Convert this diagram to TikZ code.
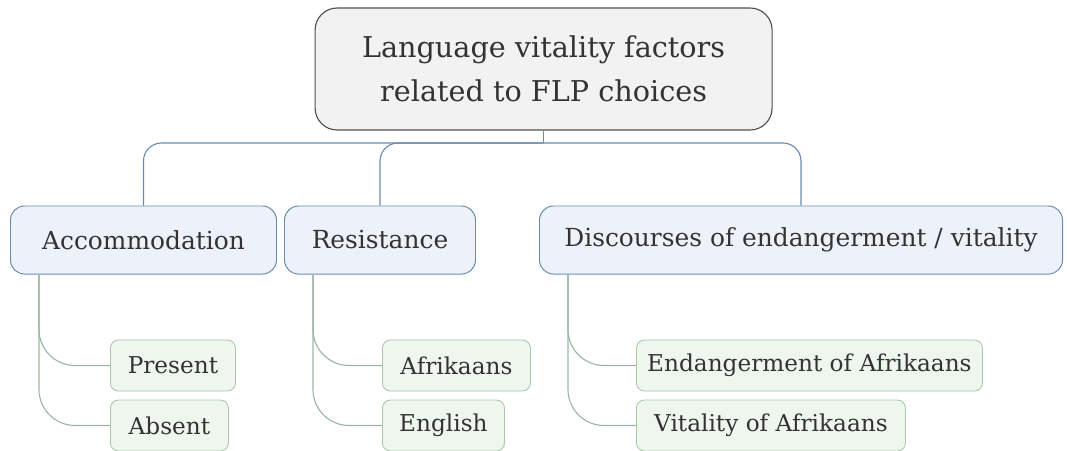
\documentclass[tikz,border=0pt]{standalone}
\usepackage{fontspec}
\setmainfont{DejaVu Serif}
\usetikzlibrary{positioning}

\definecolor{raizfill}{HTML}{F2F2F2}
\definecolor{raizborda}{HTML}{505050}
\definecolor{ramofill}{HTML}{EDF2FA}
\definecolor{ramoborda}{HTML}{6A8BB0}
\definecolor{folhafill}{HTML}{EEF6EE}
\definecolor{folhaborda}{HTML}{A8C7A8}
\definecolor{linhafolha}{HTML}{9CB5A5}

\begin{document}
\begin{tikzpicture}[
        raiz/.style={draw=raizborda, fill=raizfill, line width=0.8pt, rounded corners=0.55cm,
            align=center, minimum width=11.425cm, minimum height=3.05cm,
            font=\fontsize{20.4}{31}\selectfont, text=black!80},
        ramo/.style={draw=ramoborda, fill=ramofill, line width=0.7pt, rounded corners=0.35cm,
            anchor=west, minimum height=1.7cm, inner xsep=0.3cm,
            font=\fontsize{17.7}{20}\selectfont, text=black!80},
        folha/.style={draw=folhaborda, fill=folhafill, line width=0.6pt, rounded corners=0.2cm,
            anchor=west, minimum height=1.275cm, inner xsep=0.15cm,
            font=\fontsize{16.5}{18}\selectfont, text=black!80},
        ligacao/.style={draw=ramoborda, line width=0.8pt},
        sublig/.style={draw=linhafolha, line width=0.8pt, rounded corners=0.9cm}
    ]

        \useasboundingbox (0,0) rectangle (26.675,-11.25);

        %--------------------------------
        % raiz
        %--------------------------------
        \node[raiz] (raiz) at (13.59,-1.725) {Language vitality factors\\related to FLP choices};
        \coordinate (junta) at (13.59,-3.575);

        %--------------------------------
        % ramos
        %--------------------------------
        \node[ramo, minimum width=6.65cm] (acom) at (0.25,-6.0) {Accommodation};
        \node[ramo, minimum width=4.775cm] (resi) at (7.1,-6.0) {Resistance};
        \node[ramo, minimum width=13.075cm] (disc) at (13.475,-6.0) {Discourses of endangerment / vitality};

        \draw[ligacao] (raiz.south) -- (junta);
        \foreach \r in {acom,resi,disc}
            \draw[ligacao, rounded corners=0.45cm] (junta) -| (\r.north);

        %--------------------------------
        % folhas
        %--------------------------------
        \node[folha, minimum width=3.125cm] (pres) at (2.75,-9.1375) {Present};
        \node[folha, minimum width=2.95cm] (ause) at (2.75,-10.6375) {Absent};

        \node[folha, minimum width=3.7cm] (afri) at (9.55,-9.1375) {Afrikaans};
        \node[folha, minimum width=3.05cm] (engl) at (9.55,-10.6375) {English};

        \node[folha, minimum width=8.65cm] (enda) at (15.9,-9.1375) {Endangerment of Afrikaans};
        \node[folha, minimum width=6.725cm] (vita) at (15.9,-10.6375) {Vitality of Afrikaans};

        \foreach \p/\f in {acom/pres,acom/ause,resi/afri,resi/engl,disc/enda,disc/vita}
            \draw[sublig] ([xshift=0.725cm]\p.south west) |- (\f.west);

    \end{tikzpicture}
\end{document}
